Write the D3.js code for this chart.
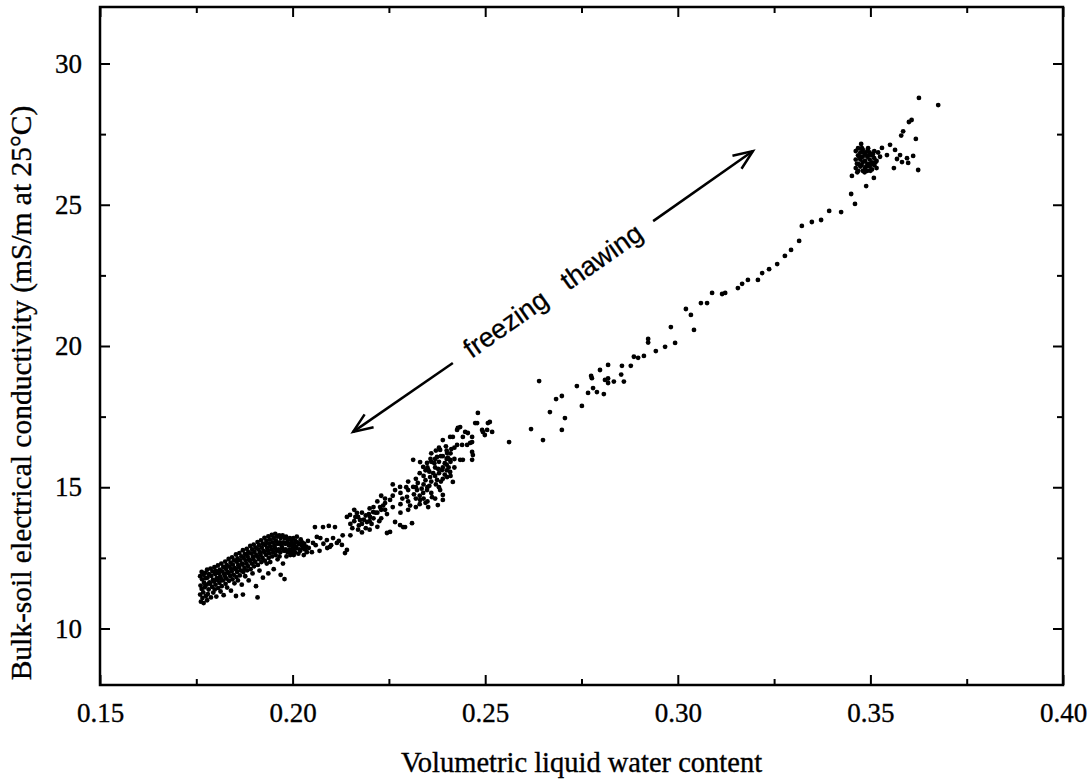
<!DOCTYPE html>
<html>
<head>
<meta charset="utf-8">
<script src="https://cdn.jsdelivr.net/npm/d3@7"></script>
<style>
  body { margin: 0; background: white; }
</style>
</head>
<body>
<div id="chart"></div>
<script>
// volumetric liquid water content vs bulk EC
const lowCluster = [
  [0.1760,11.85],[0.1761,11.52],[0.1760,11.2],[0.1762,10.95],
  [0.1764,12.0],[0.1765,11.74],[0.1764,11.4],[0.1766,11.08],
  [0.1769,11.9],[0.1770,11.62],[0.1768,11.28],[0.1769,10.9],
  [0.1773,11.97],[0.1774,11.78],[0.1772,11.46],[0.1775,11.15],
  [0.1778,12.08],[0.1779,11.8],[0.1777,11.55],[0.1780,11.22],[0.1778,11.0],
  [0.1783,11.92],[0.1784,11.63],[0.1782,11.38],
  [0.1787,12.12],[0.1789,11.86],[0.1786,11.58],[0.1788,11.1],
  [0.1792,12.02],[0.1793,11.72],[0.1791,11.47],[0.1794,11.27],
  [0.1797,12.17],[0.1799,11.93],[0.1796,11.66],[0.1798,11.38],
  [0.1801,12.04],[0.1803,11.78],[0.1800,11.55],[0.1802,11.13],
  [0.1806,12.23],[0.1808,11.96],[0.1805,11.72],[0.1807,11.43],
  [0.1811,12.08],[0.1812,11.84],[0.1810,11.62],[0.1813,11.31],
  [0.1815,12.3],[0.1817,12.02],[0.1814,11.76],[0.1816,11.5],
  [0.1820,12.18],[0.1822,11.94],[0.1819,11.7],[0.1821,11.18],
  [0.1825,12.37],[0.1827,12.11],[0.1824,11.86],[0.1826,11.58],
  [0.1829,12.24],[0.1831,12.0],[0.1828,11.77],[0.1830,11.45],
  [0.1834,12.46],[0.1836,12.19],[0.1833,11.96],[0.1835,11.69],
  [0.1839,12.33],[0.1841,12.1],[0.1838,11.86],[0.1840,11.34],
  [0.1843,12.52],[0.1845,12.26],[0.1842,12.02],[0.1844,11.74],
  [0.1848,12.41],[0.1850,12.14],[0.1847,11.9],[0.1849,11.6],
  [0.1853,12.62],[0.1855,12.36],[0.1852,12.1],[0.1854,11.82],[0.1853,11.15],
  [0.1857,12.48],[0.1859,12.24],[0.1856,12.0],[0.1858,11.7],
  [0.1862,12.67],[0.1864,12.41],[0.1861,12.16],[0.1863,11.88],
  [0.1867,12.55],[0.1869,12.3],[0.1866,12.05],[0.1868,11.55],
  [0.1871,12.77],[0.1873,12.5],[0.1870,12.26],[0.1872,12.0],[0.1871,11.2],
  [0.1876,12.64],[0.1878,12.41],[0.1875,12.14],[0.1877,11.85],
  [0.1881,12.82],[0.1883,12.56],[0.1880,12.3],[0.1882,12.06],
  [0.1885,12.7],[0.1887,12.45],[0.1884,12.21],[0.1886,11.7],
  [0.1890,12.92],[0.1892,12.66],[0.1889,12.4],[0.1891,12.1],
  [0.1895,12.8],[0.1897,12.55],[0.1894,12.3],[0.1896,11.95],
  [0.1899,12.97],[0.1901,12.71],[0.1898,12.45],[0.1900,12.2],
  [0.1904,12.86],[0.1906,12.6],[0.1903,12.36],[0.1905,11.5],
  [0.1909,13.06],[0.1911,12.8],[0.1908,12.55],[0.1910,12.25],[0.1909,11.1],
  [0.1913,12.95],[0.1915,12.7],[0.1912,12.46],[0.1914,12.05],
  [0.1918,13.12],[0.1920,12.86],[0.1917,12.6],[0.1919,12.35],
  [0.1923,13.0],[0.1925,12.75],[0.1922,12.5],[0.1923,11.8],
  [0.1927,13.21],[0.1929,12.96],[0.1926,12.7],[0.1928,12.4],
  [0.1932,13.1],[0.1934,12.85],[0.1931,12.61],[0.1933,12.3],
  [0.1937,13.26],[0.1939,13.0],[0.1936,12.75],[0.1938,12.5],[0.1937,11.95],
  [0.1941,13.15],[0.1943,12.9],[0.1940,12.66],[0.1942,12.35],
  [0.1946,13.31],[0.1948,13.05],[0.1945,12.8],[0.1947,12.55],
  [0.1951,13.2],[0.1953,12.95],[0.1950,12.7],[0.1951,12.1],
  [0.1955,13.35],[0.1957,13.1],[0.1954,12.85],[0.1956,12.6],
  [0.1960,13.25],[0.1962,13.0],[0.1959,12.75],[0.1961,12.45],
  [0.1965,13.3],[0.1967,13.05],[0.1964,12.8],[0.1966,12.55],
  [0.1969,13.2],[0.1971,12.95],[0.1968,12.7],[0.1969,11.9],
  [0.1974,13.3],[0.1976,13.05],[0.1973,12.85],[0.1975,12.3],
  [0.1979,13.2],[0.1981,13.0],[0.1978,12.75],[0.1979,11.75],
  [0.1983,13.25],[0.1985,13.05],[0.1982,12.8],[0.1984,12.55],
  [0.1988,13.15],[0.1990,12.95],[0.1987,12.7],
  [0.1993,13.2],[0.1995,13.0],[0.1992,12.8],[0.1994,12.6],
  [0.1997,13.1],[0.1999,12.9],[0.1996,12.7],
  [0.2002,13.2],[0.2004,13.0],[0.2001,12.8],[0.2003,12.6],
  [0.2007,13.1],[0.2009,12.9],[0.2006,12.7],
  [0.2011,13.25],[0.2013,13.05],[0.2010,12.85],
  [0.2016,13.0],[0.2018,12.8],[0.2015,12.65],
  [0.2021,13.15],[0.2023,12.95],[0.2020,12.75],
  [0.2025,13.05],[0.2027,12.85],
  [0.2030,13.0],[0.2032,12.8],[0.2029,12.6],
  [0.2035,12.9],[0.2037,12.7],
  [0.2040,13.1],[0.2042,12.85],
  [0.2050,12.7],[0.2053,13.03],[0.2060,12.95],[0.2063,13.24],[0.2058,13.59],
  [0.2070,12.75],[0.2072,13.2],[0.2079,13.59],[0.2080,13.0],[0.2090,12.85],[0.2089,13.13],
  [0.2094,13.63],[0.2097,12.89],[0.2100,12.95],[0.2105,13.20],[0.2110,13.59],[0.2115,13.03],
  [0.2120,13.1],[0.2128,12.96],[0.2130,13.3],[0.2136,12.67],[0.2141,12.78]
];

const midBand = [
  [0.2150,13.7],[0.2150,13.3],[0.2141,13.95],[0.2149,14.02],[0.2155,13.55],
  [0.2160,13.8],[0.2160,14.2],[0.2167,14.09],[0.2163,13.95],
  [0.2170,13.5],[0.2170,13.95],[0.2175,13.84],[0.2172,13.65],
  [0.2180,13.7],[0.2180,14.1],[0.2180,13.4],[0.2185,13.85],
  [0.2190,14.0],[0.2190,13.55],[0.2193,13.77],[0.2198,14.05],
  [0.2200,13.8],[0.2200,14.25],[0.2200,13.5],[0.2201,13.95],[0.2205,13.7],
  [0.2210,13.9],[0.2210,14.3],[0.2209,14.12],[0.2215,14.1],
  [0.2220,14.1],[0.2220,13.6],[0.2220,14.5],[0.2227,14.30],[0.2225,13.8],
  [0.2230,13.9],[0.2230,14.2],[0.2230,14.7],[0.2235,14.35],
  [0.2240,14.2],[0.2240,14.6],[0.2240,14.44],[0.2245,13.38],[0.2245,14.05],
  [0.2253,14.55],[0.2253,13.42],[0.2260,14.3],[0.2260,14.7],[0.2260,15.1],[0.2266,14.90],[0.2266,13.77],
  [0.2279,15.01],[0.2279,13.66],[0.2280,14.4],[0.2280,14.8],[0.2280,14.1],[0.2287,13.59],[0.2292,13.59],
  [0.2285,14.6],[0.2295,15.0],[0.2297,14.66],[0.2300,14.5],[0.2300,14.9],[0.2300,15.2],[0.2300,14.2],
  [0.2305,14.35],[0.2310,13.73],[0.2313,15.01],[0.2313,15.97],[0.2315,14.75],
  [0.2320,14.6],[0.2320,15.0],[0.2320,15.3],[0.2320,14.3],[0.2323,14.90],[0.2325,15.15],
  [0.2330,15.5],[0.2330,14.7],[0.2330,14.4],[0.2331,14.55],[0.2331,15.89],[0.2335,14.95],
  [0.2340,15.1],[0.2340,15.4],[0.2340,14.6],[0.2339,14.80],[0.2339,15.72],
  [0.2345,15.25],[0.2345,14.45],[0.2345,15.6],
  [0.2350,15.0],[0.2350,15.7],[0.2350,14.5],[0.2349,14.90],[0.2349,15.86],[0.2352,15.61],[0.2352,14.30],
  [0.2355,15.05],[0.2355,15.55],[0.2358,16.0],
  [0.2360,15.2],[0.2360,15.9],[0.2360,14.8],[0.2360,16.2],[0.2357,15.36],[0.2362,14.65],
  [0.2368,15.85],[0.2372,15.1],[0.2372,16.3],
  [0.2370,15.4],[0.2370,15.7],[0.2370,14.6],[0.2370,16.0],[0.2365,15.50],[0.2375,15.26],[0.2375,16.07],[0.2377,14.37],
  [0.2378,15.65],
  [0.2380,15.5],[0.2380,15.9],[0.2380,15.0],[0.2380,16.4],[0.2383,14.90],[0.2383,16.32],[0.2388,15.61],
  [0.2385,15.2],[0.2385,16.1],
  [0.2390,15.7],[0.2390,16.1],[0.2390,15.3],[0.2390,14.55],[0.2390,16.67],[0.2390,14.73],
  [0.2395,15.85],[0.2395,15.45],[0.2398,16.45],
  [0.2400,15.8],[0.2400,16.0],[0.2400,15.6],[0.2400,16.3],[0.2401,15.36],[0.2401,16.21],
  [0.2403,16.05],[0.2405,15.7],
  [0.2410,15.9],[0.2410,16.2],[0.2410,15.4],[0.2409,15.54],[0.2409,15.97],[0.2409,16.78],[0.2412,16.35],
  [0.2420,16.0],[0.2420,16.4],[0.2420,15.7],[0.2416,15.19],[0.2416,16.78],
  [0.2427,17.03],[0.2427,16.50],[0.2429,17.10],[0.2435,15.97],[0.2435,17.13],
  [0.2440,16.50],[0.2442,16.78],[0.2442,15.97],[0.2448,16.96],
  [0.2453,16.50],[0.2455,16.92],[0.2461,16.57],[0.2466,16.78],[0.2466,16.25],[0.2466,15.97],[0.2466,16.60],[0.2468,16.14],
  [0.2474,17.27],[0.2479,17.27],[0.2481,17.63],[0.2492,17.03],[0.2494,16.96],[0.2499,16.85],
  [0.2505,17.03],[0.2507,17.27],[0.2512,17.31],[0.2518,16.96]
];

const trail = [
  [0.2562,16.60],[0.2619,17.06],[0.2640,18.76],[0.2650,16.67],[0.2668,17.66],[0.2684,18.12],
  [0.2699,18.23],[0.2707,17.45],[0.2699,17.03],
  [0.2738,18.58],[0.2751,17.88],[0.2767,18.34],[0.2775,18.94],[0.2777,18.86],[0.2780,18.51],
  [0.2790,18.37],[0.2798,19.15],[0.2808,18.30],[0.2811,18.80],[0.2819,18.69],[0.2819,19.33],
  [0.2819,18.85],[0.2834,18.74],[0.2853,18.99],[0.2855,19.30],[0.2860,18.74],[0.2878,19.30],
  [0.2886,19.62],[0.2897,19.58],[0.2912,19.65],[0.2923,20.25],[0.2923,20.12],[0.2943,19.82],
  [0.2967,19.97],[0.2993,20.11],[0.2982,20.67],
  [0.3021,21.31],[0.3034,21.10],[0.3042,20.57],[0.3060,21.52],[0.3076,21.52],[0.3089,21.88],
  [0.3115,21.84],[0.3123,21.88],
  [0.3156,22.05],[0.3167,22.20],[0.3182,22.34],[0.3208,22.34],[0.3219,22.58],[0.3237,22.72],
  [0.3258,22.90],[0.3278,23.19],[0.3294,23.40],[0.3315,23.72],[0.3322,24.25],[0.3348,24.39],
  [0.3372,24.46],[0.3393,24.78],[0.3424,24.74],[0.3450,25.38],[0.3460,25.03],[0.3452,26.02],
  [0.3489,25.66],[0.3509,25.95]
];

const wetCluster = [
  [0.3476,27.15],
  [0.3462,26.3],[0.3462,26.6],[0.3462,26.9],[0.3465,26.45],[0.3466,26.15],
  [0.3468,26.2],[0.3468,26.45],[0.3468,26.75],[0.3468,27.0],[0.3471,26.7],
  [0.3474,26.35],[0.3474,26.6],[0.3474,26.85],[0.3477,26.4],[0.3478,27.0],
  [0.3480,26.2],[0.3480,26.5],[0.3480,26.7],[0.3480,26.95],[0.3483,26.85],
  [0.3486,26.3],[0.3486,26.55],[0.3486,26.8],[0.3485,26.15],[0.3489,26.35],
  [0.3492,26.2],[0.3492,26.45],[0.3492,26.7],[0.3492,26.9],[0.3494,27.0],[0.3495,26.75],
  [0.3498,26.35],[0.3498,26.6],[0.3498,26.85],[0.3500,26.2],[0.3501,26.45],
  [0.3504,26.25],[0.3504,26.5],[0.3504,26.75],[0.3507,26.8],
  [0.3510,26.4],[0.3510,26.65],[0.3510,26.9],[0.3513,26.5],
  [0.3516,26.3],[0.3516,26.55],[0.3520,26.85],[0.3525,26.7],
  [0.3530,27.01],[0.3551,27.12],[0.3564,26.94],[0.3543,26.76],[0.3577,26.76],[0.3569,26.62],
  [0.3582,26.51],[0.3595,26.65],[0.3598,26.48],[0.3611,26.73],[0.3561,26.30],[0.3624,26.23],
  [0.3618,27.33],[0.3580,27.45],[0.3585,27.60],[0.3600,27.93],[0.3607,28.00],
  [0.3626,28.78],[0.3676,28.53]
];

const xMajor = [0.15, 0.20, 0.25, 0.30, 0.35, 0.40];
const xMinor = [0.175, 0.225, 0.275, 0.325, 0.375];
const yMajor = [10, 15, 20, 25, 30];
const yMinor = [12.5, 17.5, 22.5, 27.5];

// arrow annotation (data coords)
const arrowLow = [[0.2416, 19.40], [0.2157, 16.96]];
const arrowHigh = [[0.2936, 24.42], [0.3195, 26.90]];
const labelAt = [0.2676, 21.95];

const width = 1089;
const height = 782;
const margin = { top: 7, right: 26, bottom: 97, left: 100 };
const serif = "'Liberation Serif', 'Times New Roman', serif";

const svg = d3.select("#chart").append("svg")
  .attr("width", width)
  .attr("height", height)
  .style("background", "white");

const x = d3.scaleLinear().domain([0.15, 0.40]).range([margin.left, width - margin.right]);
const y = d3.scaleLinear().domain([8, 32]).range([height - margin.bottom, margin.top]);

function styleAxis(g) {
  g.select(".domain").remove();
  g.selectAll(".tick line").attr("stroke", "#000").attr("stroke-width", 2);
  g.selectAll(".tick text")
    .attr("fill", "#000")
    .attr("stroke", "#000")
    .attr("stroke-width", 0.35)
    .style("font-family", serif)
    .style("font-size", "27px");
}

// left
svg.append("g").attr("transform", `translate(${x(0.15)},0)`)
  .call(d3.axisLeft(y).tickValues(yMajor).tickSize(-10).tickPadding(18).tickFormat(d3.format("d")))
  .call(styleAxis);
svg.append("g").attr("transform", `translate(${x(0.15)},0)`)
  .call(d3.axisLeft(y).tickValues(yMinor).tickSize(-6).tickFormat(""))
  .call(styleAxis);
// right
svg.append("g").attr("transform", `translate(${x(0.40)},0)`)
  .call(d3.axisRight(y).tickValues(yMajor).tickSize(-10).tickFormat(""))
  .call(styleAxis);
svg.append("g").attr("transform", `translate(${x(0.40)},0)`)
  .call(d3.axisRight(y).tickValues(yMinor).tickSize(-6).tickFormat(""))
  .call(styleAxis);
// bottom
svg.append("g").attr("transform", `translate(0,${y(8)})`)
  .call(d3.axisBottom(x).tickValues(xMajor).tickSize(-10).tickPadding(18).tickFormat(d3.format(".2f")))
  .call(styleAxis);
svg.append("g").attr("transform", `translate(0,${y(8)})`)
  .call(d3.axisBottom(x).tickValues(xMinor).tickSize(-6).tickFormat(""))
  .call(styleAxis);
// top
svg.append("g").attr("transform", `translate(0,${y(32)})`)
  .call(d3.axisTop(x).tickValues(xMajor).tickSize(-10).tickFormat(""))
  .call(styleAxis);
svg.append("g").attr("transform", `translate(0,${y(32)})`)
  .call(d3.axisTop(x).tickValues(xMinor).tickSize(-6).tickFormat(""))
  .call(styleAxis);

// frame
svg.append("rect")
  .attr("x", x(0.15))
  .attr("y", y(32))
  .attr("width", x(0.40) - x(0.15))
  .attr("height", y(8) - y(32))
  .attr("fill", "none")
  .attr("stroke", "#000")
  .attr("stroke-width", 2.5);

// points
const allPoints = [...lowCluster, ...midBand, ...trail, ...wetCluster];
svg.append("g").selectAll("circle")
  .data(allPoints)
  .join("circle")
  .attr("cx", d => x(d[0]))
  .attr("cy", d => y(d[1]))
  .attr("r", 2.4)
  .attr("fill", "#000");

// freezing / thawing arrows
function drawArrow(seg) {
  const [p0, p1] = seg.map(d => [x(d[0]), y(d[1])]);
  svg.append("line")
    .attr("x1", p0[0]).attr("y1", p0[1])
    .attr("x2", p1[0]).attr("y2", p1[1])
    .attr("stroke", "#000").attr("stroke-width", 2.5);
  const ang = Math.atan2(p0[1] - p1[1], p0[0] - p1[0]);
  const len = 21, spread = 22 * Math.PI / 180;
  const a = [p1[0] + len * Math.cos(ang + spread), p1[1] + len * Math.sin(ang + spread)];
  const b = [p1[0] + len * Math.cos(ang - spread), p1[1] + len * Math.sin(ang - spread)];
  svg.append("path")
    .attr("d", `M${a[0]},${a[1]}L${p1[0]},${p1[1]}L${b[0]},${b[1]}`)
    .attr("fill", "none")
    .attr("stroke", "#000")
    .attr("stroke-width", 2.5)
    .attr("stroke-linejoin", "miter");
}
drawArrow(arrowLow);
drawArrow(arrowHigh);

const angle = Math.atan2(y(arrowHigh[1][1]) - y(arrowLow[1][1]), x(arrowHigh[1][0]) - x(arrowLow[1][0])) * 180 / Math.PI;
svg.append("text")
  .attr("transform", `translate(${x(labelAt[0])},${y(labelAt[1])}) rotate(${angle})`)
  .attr("text-anchor", "middle")
  .attr("dominant-baseline", "central")
  .style("font-family", "'Liberation Sans', Arial, sans-serif")
  .style("font-size", "27px")
  .style("white-space", "pre")
  .attr("fill", "#000")
  .attr("stroke", "#000")
  .attr("stroke-width", 0.3)
  .text("freezing   thawing");

// axis titles
svg.append("text")
  .attr("x", (x(0.15) + x(0.40)) / 2)
  .attr("y", 772)
  .attr("text-anchor", "middle")
  .style("font-family", serif)
  .style("font-size", "28.5px")
  .attr("fill", "#000")
  .attr("stroke", "#000")
  .attr("stroke-width", 0.35)
  .text("Volumetric liquid water content");

svg.append("text")
  .attr("transform", `translate(31,${(y(8) + y(32)) / 2 + 47}) rotate(-90)`)
  .attr("text-anchor", "middle")
  .style("font-family", serif)
  .style("font-size", "29.5px")
  .attr("fill", "#000")
  .attr("stroke", "#000")
  .attr("stroke-width", 0.35)
  .text("Bulk-soil electrical conductivity (mS/m at 25°C)");
</script>
</body>
</html>
